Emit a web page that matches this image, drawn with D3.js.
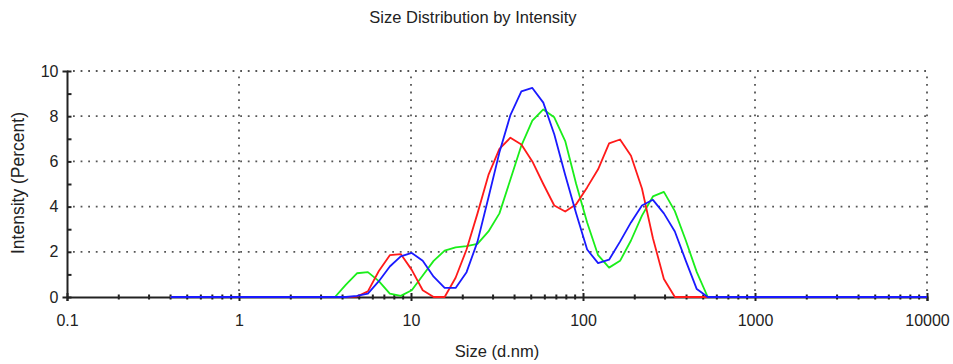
<!DOCTYPE html>
<html>
<head>
<meta charset="utf-8">
<script src="https://cdn.jsdelivr.net/npm/d3@7"></script>
<style>
  html, body { margin: 0; padding: 0; background: #fff; }
  svg { display: block; }
  text { font-family: "Liberation Sans", Arial, sans-serif; fill: #222; }
</style>
</head>
<body>
<svg id="chart" width="953" height="364"></svg>
<script>
// Size classes (d.nm) of the intensity distribution
const sizes = [0.4, 0.4632, 0.5365, 0.6213, 0.7195, 0.8332, 0.9649, 1.117, 1.294, 1.499,
  1.736, 2.010, 2.328, 2.696, 3.122, 3.615, 4.187, 4.849, 5.615, 6.503,
  7.531, 8.721, 10.10, 11.70, 13.54, 15.69, 18.17, 21.04, 24.36, 28.21,
  32.67, 37.84, 43.82, 50.75, 58.77, 68.06, 78.82, 91.28, 105.7, 122.4,
  141.8, 164.2, 190.1, 220.2, 255.0, 295.3, 342.0, 396.1, 458.7, 531.2,
  615.1, 712.4, 825.0, 955.4, 1106, 1281, 1484, 1718, 1990, 2305,
  2669, 3091, 3580, 4145, 4801, 5560, 6439, 7456, 8635, 10000];

// Intensity (%) per size class, one array per measurement
const record1 = [0, 0, 0, 0, 0, 0, 0, 0, 0, 0,
  0, 0, 0, 0, 0, 0, 0, 0.02, 0.25, 1.15,
  1.85, 1.9, 1.2, 0.3, 0, 0, 0.85, 2.1, 3.7, 5.4,
  6.55, 7.05, 6.75, 6.0, 5.0, 4.05, 3.78, 4.1, 4.85, 5.65,
  6.8, 6.97, 6.25, 4.8, 2.6, 0.8, 0, 0, 0, 0,
  0, 0, 0, 0, 0, 0, 0, 0, 0, 0,
  0, 0, 0, 0, 0, 0, 0, 0, 0, 0];

const record2 = [0, 0, 0, 0, 0, 0, 0, 0, 0, 0,
  0, 0, 0, 0, 0, 0, 0.55, 1.05, 1.1, 0.7,
  0.15, 0.05, 0.3, 0.95, 1.6, 2.05, 2.2, 2.25, 2.35, 2.9,
  3.7, 5.2, 6.7, 7.8, 8.3, 7.95, 6.9, 5.0, 3.3, 1.85,
  1.3, 1.6, 2.5, 3.6, 4.45, 4.65, 3.8, 2.5, 1.1, 0,
  0, 0, 0, 0, 0, 0, 0, 0, 0, 0,
  0, 0, 0, 0, 0, 0, 0, 0, 0, 0];

const record3 = [0, 0, 0, 0, 0, 0, 0, 0, 0, 0,
  0, 0, 0, 0, 0, 0, 0, 0.05, 0.15, 0.7,
  1.35, 1.8, 1.95, 1.6, 0.9, 0.4, 0.4, 1.1, 2.45, 4.4,
  6.4, 8.05, 9.1, 9.25, 8.6, 7.2, 5.4, 3.7, 2.1, 1.5,
  1.65, 2.45, 3.3, 4.05, 4.3, 3.7, 2.9, 1.6, 0.35, 0,
  0, 0, 0, 0, 0, 0, 0, 0, 0, 0,
  0, 0, 0, 0, 0, 0, 0, 0, 0, 0];

const seriesColors = ["#ff1a1a", "#1aee1a", "#1a1aff"];
const xMajorTicks = [0.1, 1, 10, 100, 1000, 10000];
const xTickLabels = ["0.1", "1", "10", "100", "1000", "10000"];
const yMajorTicks = [0, 2, 4, 6, 8, 10];

const svg = d3.select("#chart");
const plot = { left: 67, right: 927, top: 71, bottom: 297 };

const x = d3.scaleLog().domain([0.1, 10000]).range([plot.left, plot.right]);
const y = d3.scaleLinear().domain([0, 10]).range([plot.bottom, plot.top]);

// Title and axis titles
svg.append("text")
  .attr("x", 473).attr("y", 23)
  .attr("text-anchor", "middle")
  .style("font-size", "16.5px")
  .text("Size Distribution by Intensity");

svg.append("text")
  .attr("x", 497).attr("y", 357)
  .attr("text-anchor", "middle")
  .style("font-size", "16.5px")
  .text("Size (d.nm)");

svg.append("text")
  .attr("transform", "translate(24,183) rotate(-90)")
  .attr("text-anchor", "middle")
  .style("font-size", "17.5px")
  .text("Intensity (Percent)");

// Dotted grid
const grid = svg.append("g")
  .attr("stroke", "#555")
  .attr("stroke-width", 1.8)
  .attr("stroke-dasharray", "1.8,5.8")
  .attr("fill", "none");

grid.selectAll("line.h")
  .data(yMajorTicks.filter(d => d > 0))
  .join("line")
  .attr("class", "h")
  .attr("x1", plot.left + 6).attr("x2", plot.right)
  .attr("y1", d => y(d)).attr("y2", d => y(d));

grid.selectAll("line.v")
  .data(xMajorTicks.filter(d => d > 0.1))
  .join("line")
  .attr("class", "v")
  .attr("x1", d => x(d)).attr("x2", d => x(d))
  .attr("y1", plot.bottom - 6).attr("y2", plot.top);

// X axis: minor ticks cross the baseline, longer ticks at each decade
const xAxis = d3.axisBottom(x)
  .tickValues(xMajorTicks)
  .tickFormat((d, i) => xTickLabels[i])
  .tickSize(4)
  .tickPadding(14);

const gx = svg.append("g")
  .attr("transform", `translate(0,${plot.bottom})`)
  .call(xAxis);
gx.select(".domain").attr("stroke", "#222").attr("stroke-width", 2);
gx.selectAll(".tick line").attr("stroke", "#222").attr("stroke-width", 2).attr("y1", -4);
gx.selectAll(".tick text").style("font-size", "16px").attr("fill", "#222");

const xMinor = [];
for (let dec = 0.1; dec < 10000; dec *= 10) {
  for (let k = 2; k <= 9; k++) xMinor.push(+(dec * k).toPrecision(6));
}
svg.append("g")
  .selectAll("line")
  .data(xMinor)
  .join("line")
  .attr("x1", d => x(d)).attr("x2", d => x(d))
  .attr("y1", plot.bottom - 2.5).attr("y2", plot.bottom + 2.5)
  .attr("stroke", "#222").attr("stroke-width", 2);

// Y axis: ticks on both sides of the axis line
const yAxis = d3.axisLeft(y)
  .tickValues(d3.range(0, 11))
  .tickFormat(d => (d % 2 === 0 ? d : ""))
  .tickSize(4.5)
  .tickPadding(4);

const gy = svg.append("g")
  .attr("transform", `translate(${plot.left},0)`)
  .call(yAxis);
gy.select(".domain").attr("stroke", "#222").attr("stroke-width", 2);
gy.selectAll(".tick line").attr("stroke", "#222").attr("stroke-width", 2).attr("x2", 4.5);
gy.selectAll(".tick text").style("font-size", "16px").attr("fill", "#222");

// Distribution curves
const line = d3.line()
  .x(d => x(d[0]))
  .y(d => y(d[1]));

const records = [record2, record1, record3];
const colors = [seriesColors[1], seriesColors[0], seriesColors[2]];

svg.append("g")
  .selectAll("path")
  .data(records)
  .join("path")
  .attr("d", vals => line(sizes.map((s, i) => [s, vals[i]])))
  .attr("fill", "none")
  .attr("stroke", (d, i) => colors[i])
  .attr("stroke-width", 1.8)
  .attr("stroke-linejoin", "round");
</script>
</body>
</html>
